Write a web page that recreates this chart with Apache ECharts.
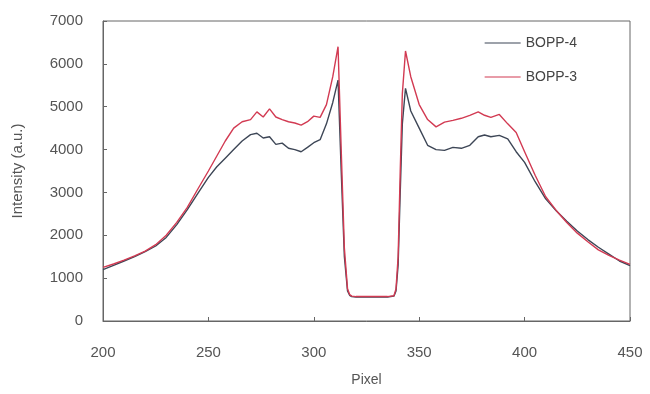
<!DOCTYPE html>
<html>
<head>
<meta charset="utf-8">
<script src="https://cdn.jsdelivr.net/npm/echarts@6/dist/echarts.min.js"></script>
<style>
  html, body { margin: 0; padding: 0; background: #fff; }
  #chart { width: 650px; height: 394px; }
</style>
</head>
<body>
<div id="chart"></div>
<script>
// pixel positions (x) and intensities of both samples
const pixels = [200, 205, 210, 215, 220, 225, 230, 235, 240, 245, 250, 254, 258, 262, 266, 270, 273, 276, 279, 282,
  285, 288, 291, 294, 297, 300, 303, 306, 309, 311.5, 313, 314.5, 316, 317, 318, 320, 325, 330, 335, 338,
  339, 340, 341, 342, 343.5, 346, 350, 354, 358, 362, 366, 370, 374, 378, 381, 384, 388, 392, 396, 400,
  405, 410, 415, 420, 425, 430, 435, 440, 445, 450];

const bopp4 = [1200, 1300, 1400, 1500, 1620, 1750, 1950, 2250, 2600, 2980, 3350, 3600, 3800, 4000, 4200, 4350, 4380, 4270, 4300, 4120,
  4150, 4030, 4000, 3950, 4050, 4160, 4230, 4600, 5100, 5620, 3500, 1500, 700, 600, 570, 560, 560, 560, 560, 580,
  700, 1300, 3000, 4600, 5430, 4900, 4500, 4100, 4000, 3980, 4050, 4030, 4100, 4300, 4340, 4300, 4330, 4250, 3950, 3700,
  3250, 2850, 2570, 2330, 2100, 1900, 1720, 1560, 1400, 1290];

const bopp3 = [1250, 1330, 1420, 1520, 1630, 1780, 2000, 2300, 2650, 3080, 3500, 3850, 4200, 4500, 4650, 4700, 4880, 4760, 4950, 4760,
  4700, 4650, 4620, 4570, 4650, 4780, 4750, 5050, 5700, 6400, 4000, 1700, 750, 620, 580, 570, 570, 570, 570, 590,
  750, 1500, 3500, 5300, 6300, 5700, 5050, 4700, 4530, 4640, 4680, 4730, 4800, 4880, 4800, 4750, 4820, 4600, 4400, 3950,
  3400, 2900, 2580, 2300, 2050, 1850, 1660, 1530, 1420, 1320];

const textColor = '#555';
const font = 'Liberation Sans';
const lineIcon = 'path://M0,0 L30,0 L30,1 L0,1 Z';

const chart = echarts.init(document.getElementById('chart'));

const pairs = (ys) => pixels.map((x, i) => [x, ys[i]]);

chart.setOption({
  animation: false,
  grid: {
    left: 103, right: 20, top: 21, bottom: 73,
    show: true, borderColor: '#666', borderWidth: 1
  },
  legend: {
    right: 68, top: 31,
    orient: 'vertical',
    itemWidth: 36, itemHeight: 14, itemGap: 20,
    textStyle: { color: '#444', fontSize: 14, fontFamily: font },
    data: [
      { name: 'BOPP-4', icon: lineIcon },
      { name: 'BOPP-3', icon: lineIcon }
    ]
  },
  xAxis: {
    type: 'value',
    min: 200, max: 450, interval: 50,
    name: 'Pixel', nameLocation: 'middle', nameGap: 52,
    nameTextStyle: { color: textColor, fontSize: 14, fontFamily: font },
    axisLine: { lineStyle: { color: '#666' } },
    axisTick: { inside: true, length: 4, lineStyle: { color: '#666' } },
    axisLabel: { color: textColor, fontSize: 15, fontFamily: font, margin: 24 },
    splitLine: { show: false }
  },
  yAxis: {
    type: 'value',
    min: 0, max: 7000, interval: 1000,
    name: 'Intensity (a.u.)', nameLocation: 'middle', nameGap: 78,
    nameTextStyle: { color: textColor, fontSize: 15, fontFamily: font },
    axisLine: { show: true, lineStyle: { color: '#666' } },
    axisTick: { show: true, inside: true, length: 4, lineStyle: { color: '#666' } },
    axisLabel: { color: textColor, fontSize: 15, fontFamily: font, margin: 20, formatter: (v) => String(v) },
    splitLine: { show: false }
  },
  series: [
    {
      name: 'BOPP-4', type: 'line', data: pairs(bopp4),
      showSymbol: false,
      lineStyle: { color: '#3d4656', width: 1.4 },
      itemStyle: { color: '#3d4656' }
    },
    {
      name: 'BOPP-3', type: 'line', data: pairs(bopp3),
      showSymbol: false,
      lineStyle: { color: '#d23a52', width: 1.4 },
      itemStyle: { color: '#d23a52' }
    }
  ]
});
</script>
</body>
</html>
